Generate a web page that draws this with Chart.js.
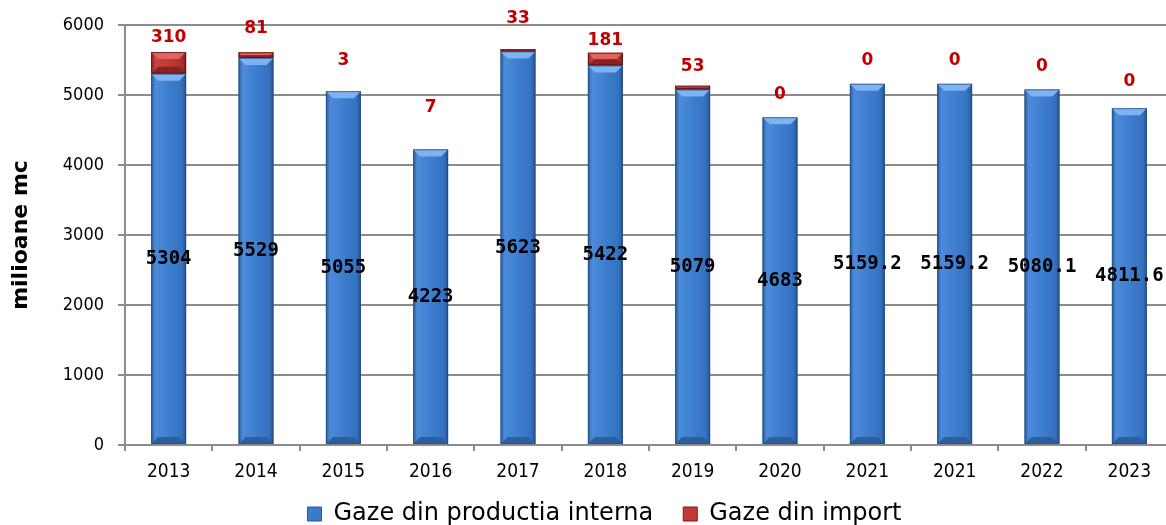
<!DOCTYPE html>
<html>
<head>
<meta charset="utf-8">
<script src="https://cdn.jsdelivr.net/npm/chart.js@4.4.1/dist/chart.umd.min.js"></script>
<style>
  html, body { margin: 0; padding: 0; background: #fff; overflow: hidden; }
  #wrap { width: 1175px; height: 544px; }
</style>
</head>
<body>
<div id="wrap"><canvas id="chart"></canvas></div>
<script>
  const years = ['2013', '2014', '2015', '2016', '2017', '2018', '2019', '2020', '2021', '2021', '2022', '2023'];
  const gazeInterne = [5304, 5529, 5055, 4223, 5623, 5422, 5079, 4683, 5159.2, 5159.2, 5080.1, 4811.6];
  const gazeImport = [310, 81, 3, 7, 33, 181, 53, 0, 0, 0, 0, 0];
  const yTicks = [0, 1000, 2000, 3000, 4000, 5000, 6000];

  // red labels were placed by hand in the original, so each one sits at its own distance above the stack (px)
  const importLabelLift = [14, 24, 30, 41, 31, 12, 19, 23, 23, 23, 23, 27];

  const bevelBars = {
    id: 'bevelBars',
    afterDatasetsDraw(chart) {
      const ctx = chart.ctx;
      chart.data.datasets.forEach((ds, di) => {
        const meta = chart.getDatasetMeta(di);
        const c = ds.shades;
        meta.data.forEach((bar) => {
          const { x, y, base, width } = bar.getProps(['x', 'y', 'base', 'width'], true);
          const h = base - y;
          if (h < 0.5) return;
          const l = x - width / 2, r = x + width / 2;
          const g = ctx.createLinearGradient(l, 0, r, 0);
          g.addColorStop(0, c.side[0]);
          g.addColorStop(0.12, c.side[1]);
          g.addColorStop(0.5, c.side[2]);
          g.addColorStop(0.88, c.side[3]);
          g.addColorStop(1, c.side[4]);
          ctx.save();
          ctx.fillStyle = g;
          ctx.fillRect(l, y, width, h);
          const b = Math.min(7, h / 2);
          // top bevel
          ctx.fillStyle = c.top;
          ctx.beginPath();
          ctx.moveTo(l, y); ctx.lineTo(r, y); ctx.lineTo(r - b, y + b); ctx.lineTo(l + b, y + b);
          ctx.closePath(); ctx.fill();
          // bottom bevel
          ctx.fillStyle = c.bottom;
          ctx.beginPath();
          ctx.moveTo(l, base); ctx.lineTo(r, base); ctx.lineTo(r - b, base - b); ctx.lineTo(l + b, base - b);
          ctx.closePath(); ctx.fill();
          ctx.strokeStyle = c.edge;
          ctx.lineWidth = 1;
          ctx.strokeRect(l + 0.5, y + 0.5, width - 1, h - 1);
          ctx.restore();
        });
      });
    }
  };

  const barLabels = {
    id: 'barLabels',
    afterDatasetsDraw(chart) {
      const ctx = chart.ctx;
      const blue = chart.getDatasetMeta(0).data;
      const red = chart.getDatasetMeta(1).data;
      ctx.save();
      ctx.textAlign = 'center';
      ctx.textBaseline = 'middle';
      ctx.font = 'bold 19px "DejaVu Sans Mono"';
      ctx.fillStyle = '#000';
      blue.forEach((bar, i) => {
        const { x, y, base } = bar.getProps(['x', 'y', 'base'], true);
        ctx.fillText(String(gazeInterne[i]), x, (y + base) / 2);
      });
      ctx.font = 'bold 17px "DejaVu Sans"';
      ctx.fillStyle = '#c00000';
      red.forEach((bar, i) => {
        const { x, y } = bar.getProps(['x', 'y'], true);
        ctx.fillText(String(gazeImport[i]), x, y - importLabelLift[i]);
      });
      ctx.restore();
    }
  };

  // the legend sits a little right of the canvas centre and tight under the axis in the original
  const nudgeLegend = {
    id: 'nudgeLegend',
    afterLayout(chart) {
      chart.legend.left += 18;
      chart.legend.right += 18;
      chart.legend.top -= 8;
      chart.legend.bottom -= 8;
    }
  };

  new Chart(
    document.getElementById('chart'),
    {
      type: 'bar',
      data: {
        labels: years,
        datasets: [
          {
            label: 'Gaze din productia interna',
            data: gazeInterne,
            backgroundColor: '#3b7acb',
            borderColor: '#2a5a98',
            borderWidth: 1,
            shades: {
              side: ['#2b5d9e', '#4c8bda', '#3e7ecf', '#3571c1', '#25538f'],
              top: '#7db3f0',
              bottom: '#2c5f9f',
              edge: 'rgba(30,70,120,0.6)'
            }
          },
          {
            label: 'Gaze din import',
            data: gazeImport,
            backgroundColor: '#c23a36',
            borderColor: '#7d1c1c',
            borderWidth: 1,
            shades: {
              side: ['#8f2222', '#c8423e', '#c23a36', '#a92f2c', '#7d1c1c'],
              top: '#e0645e',
              bottom: '#8a2020',
              edge: 'rgba(90,20,20,0.8)'
            }
          }
        ]
      },
      options: {
        responsive: true,
        maintainAspectRatio: false,
        animation: false,
        barPercentage: 0.4,
        categoryPercentage: 1,
        layout: {
          padding: { top: 25, right: 2, left: 0, bottom: 0 }
        },
        plugins: {
          legend: {
            position: 'bottom',
            labels: {
              color: '#000',
              boxWidth: 14,
              boxHeight: 14,
              padding: 30,
              font: { family: '"DejaVu Sans"', size: 24 }
            }
          },
          tooltip: { enabled: false }
        },
        scales: {
          x: {
            stacked: true,
            afterFit: (scale) => { scale.height = 35; },
            grid: {
              display: true,
              drawOnChartArea: false,
              offset: true,
              tickLength: 6,
              color: '#8c8c8c',
              lineWidth: 2
            },
            border: { color: '#8c8c8c', width: 2 },
            ticks: {
              color: '#000',
              padding: 10,
              font: { family: '"DejaVu Sans Condensed", "DejaVu Sans"', size: 19 }
            }
          },
          y: {
            stacked: true,
            min: 0,
            max: 6000,
            afterFit: (scale) => { scale.width = 125; },
            afterBuildTicks: (scale) => { scale.ticks = yTicks.map(v => ({ value: v })); },
            grid: {
              color: '#8c8c8c',
              lineWidth: 2,
              tickLength: 7
            },
            border: { color: '#8c8c8c', width: 2 },
            title: {
              display: true,
              text: 'milioane mc',
              color: '#000',
              padding: { top: 8, bottom: 0 },
              font: { family: '"DejaVu Sans"', size: 22, weight: 'bold' }
            },
            ticks: {
              color: '#000',
              padding: 14,
              callback: (value) => String(value),
              font: { family: '"DejaVu Sans Condensed", "DejaVu Sans"', size: 18 }
            }
          }
        }
      },
      plugins: [bevelBars, barLabels, nudgeLegend]
    }
  );
</script>
</body>
</html>
